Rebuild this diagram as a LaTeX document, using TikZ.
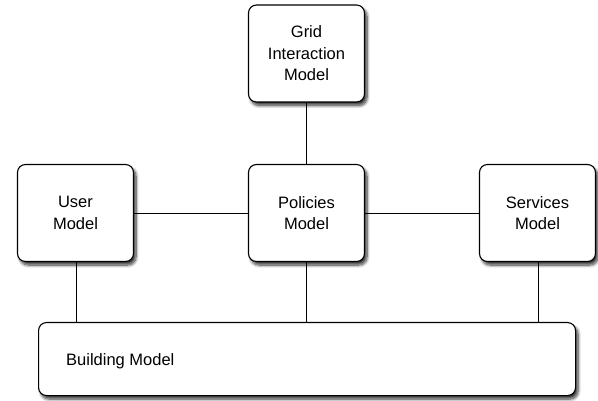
\documentclass[tikz,border=0pt]{standalone}
\usepackage{fontspec}
\setmainfont{Liberation Sans}
\usetikzlibrary{shadows.blur}
\tikzset{
  model/.style={draw=black, line width=1.1pt, fill=white, rounded corners=8pt,
    blur shadow={shadow xshift=2.5pt, shadow yshift=-3.5pt, shadow blur steps=8, shadow blur radius=3pt, shadow opacity=80},
    minimum width=116pt, minimum height=97pt, align=center, inner sep=0pt,
    font=\fontsize{16.5}{21.5}\selectfont},
  link/.style={draw=black, line width=0.9pt}
}
\begin{document}
\begin{tikzpicture}[x=1pt,y=-1pt]
\useasboundingbox (0,0) rectangle (598,401);
\node[model] (grid) at (306.5,53.5) {Grid\\Interaction\\Model};
\node[model] (user) at (75.5,213) {User\\Model};
\node[model] (pol) at (306.5,213) {Policies\\Model};
\node[model] (serv) at (537.5,213) {Services\\Model};
\node[model, minimum width=537pt, minimum height=73pt, anchor=north west] (bld) at (38,322) {};
\node[anchor=base west, inner sep=0pt, font=\fontsize{16.5}{21.5}\selectfont] (bldtxt) at (66,366) {Building Model};
\coordinate (ub) at (76,322);
\coordinate (pb) at (306.5,322);
\coordinate (sb) at (538,322);
\draw[link] (grid.south) -- (pol.north);
\draw[link] (user.east) -- (pol.west);
\draw[link] (pol.east) -- (serv.west);
\draw[link] (user.south -| ub) -- (ub);
\draw[link] (pol.south) -- (pb);
\draw[link] (serv.south -| sb) -- (sb);
\end{tikzpicture}
\end{document}
